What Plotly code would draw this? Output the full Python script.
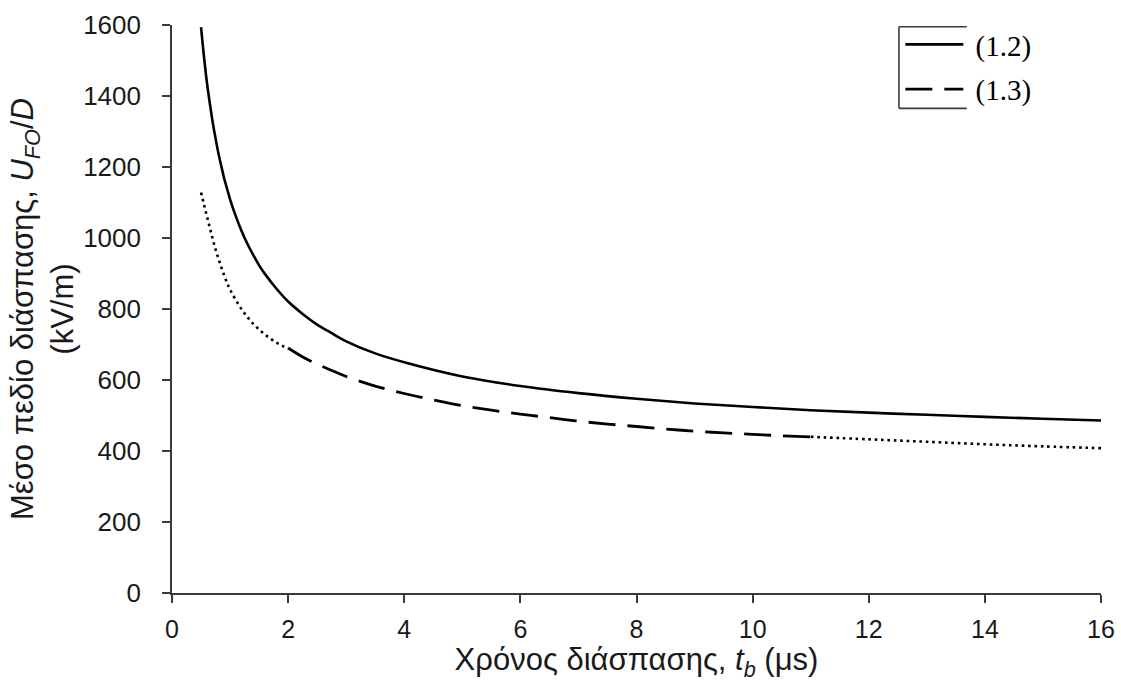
import plotly.graph_objects as go

# ---- data ----
t_12 = [0.5, 0.55, 0.6, 0.65, 0.7, 0.75, 0.8, 0.85, 0.9, 0.95, 1.0, 1.1, 1.2, 1.3, 1.4,
        1.5, 1.6, 1.8, 2.0, 2.25, 2.5, 2.75, 3.0, 3.5, 4.0,
        5.0, 6.0, 7.0, 8.0, 9.0, 10.0, 11.0, 12.0, 13.0, 14.0, 15.0, 16.0]
u_12 = [1594, 1512, 1440, 1381, 1327, 1281, 1238, 1202, 1167, 1138, 1109, 1061, 1019, 983, 952,
        923, 899, 857, 821, 786, 756, 732, 709, 675, 650,
        610, 583, 563, 547, 534, 524, 515, 508, 502, 496, 491, 486]

t_13_dot_lo = [0.5, 0.55, 0.6, 0.65, 0.7, 0.75, 0.8, 0.85, 0.9, 0.95, 1.0, 1.1, 1.2,
               1.3, 1.4, 1.5, 1.6, 1.7, 1.8, 1.9, 2.0]
u_13_dot_lo = [1128, 1095, 1062, 1030, 998, 968, 942, 917, 894, 873, 855, 825, 799,
               777, 758, 742, 728, 716, 705, 696, 690]

t_13_dash = [2.0, 2.25, 2.5, 2.75, 3.0, 3.5, 4.0, 4.5, 5.0, 5.5, 6.0, 6.5, 7.0,
             7.5, 8.0, 8.5, 9.0, 9.5, 10.0, 10.5, 11.0]
u_13_dash = [690, 665, 645, 627, 610, 583, 562, 544, 528, 515, 504, 494, 484,
             476, 469, 462, 456, 451, 447, 443, 440]

t_13_dot_hi = [11.0, 12.0, 13.0, 14.0, 15.0, 16.0]
u_13_dot_hi = [440, 433, 426, 419, 413, 408]

x_ticks = [0, 2, 4, 6, 8, 10, 12, 14, 16]
y_ticks = [0, 200, 400, 600, 800, 1000, 1200, 1400, 1600]

AX = "#3a3a3a"
SANS = "Liberation Sans, Arial, sans-serif"
SERIF = "Liberation Serif, Times New Roman, serif"
DOTS = "2.6px,3.8px"

fig = go.Figure()
fig.add_trace(go.Scatter(x=t_12, y=u_12, mode="lines", name="\u00a0(1.2)",
                         line=dict(color="black", width=2.6, shape="spline"),
                         legendgroup="a"))
fig.add_trace(go.Scatter(x=t_13_dash, y=u_13_dash, mode="lines", name="\u00a0(1.3)",
                         line=dict(color="black", width=2.8, dash="27px,12px", shape="spline"),
                         legendgroup="b"))
fig.add_trace(go.Scatter(x=t_13_dot_lo, y=u_13_dot_lo, mode="lines", showlegend=False,
                         line=dict(color="black", width=2.6, dash=DOTS, shape="spline"),
                         legendgroup="b"))
fig.add_trace(go.Scatter(x=t_13_dot_hi, y=u_13_dot_hi, mode="lines", showlegend=False,
                         line=dict(color="black", width=2.6, dash=DOTS, shape="spline"),
                         legendgroup="b"))

# three-sided legend frame (paper coords of the plotting area)
box = dict(type="line", xref="paper", yref="paper", line=dict(color=AX, width=1.6))
fig.add_shape(**box, x0=0.7825, x1=0.7825, y0=0.8533, y1=0.997)
fig.add_shape(**box, x0=0.7825, x1=0.8555, y0=0.997, y1=0.997)
fig.add_shape(**box, x0=0.7825, x1=0.8555, y0=0.8533, y1=0.8533)

fig.update_layout(
    width=1121, height=682,
    margin=dict(l=172, r=20, t=25, b=89),
    paper_bgcolor="white", plot_bgcolor="white",
    font=dict(family=SANS, color="#1a1a1a"),
    showlegend=True,
    legend=dict(x=0.784, y=1.0105, xanchor="left", yanchor="top",
                bgcolor="rgba(0,0,0,0)", borderwidth=0,
                font=dict(family=SERIF, size=29, color="black"),
                itemwidth=58, tracegroupgap=4),
    xaxis=dict(range=[0, 16], tickvals=x_ticks, ticktext=[str(v) for v in x_ticks],
               automargin=False,
               showline=True, linecolor=AX, linewidth=1.6, mirror=False,
               ticks="outside", ticklen=8, tickwidth=1.6, tickcolor=AX,
               showgrid=False, zeroline=False,
               tickfont=dict(size=25, family=SANS, color="#1a1a1a"),
               ticklabelstandoff=5,
               title=dict(text="Χρόνος διάσπασης, <i>t</i><sub><i>b</i></sub> (μs)",
                          font=dict(size=31, family=SANS, color="#1a1a1a"), standoff=6)),
    yaxis=dict(range=[0, 1600], tickvals=y_ticks, ticktext=[str(v) for v in y_ticks],
               automargin=False,
               showline=True, linecolor=AX, linewidth=1.6, mirror=False,
               ticks="outside", ticklen=8, tickwidth=1.6, tickcolor=AX,
               showgrid=False, zeroline=False,
               tickfont=dict(size=26, family=SANS, color="#1a1a1a"),
               ticklabelstandoff=16,
               title=dict(text="Μέσο πεδίο διάσπασης, <i>U</i><sub><i>FO</i></sub>/<i>D</i><br>(kV/m)",
                          font=dict(size=31, family=SANS, color="#1a1a1a"), standoff=0)),
)

fig.write_html("out.html")
